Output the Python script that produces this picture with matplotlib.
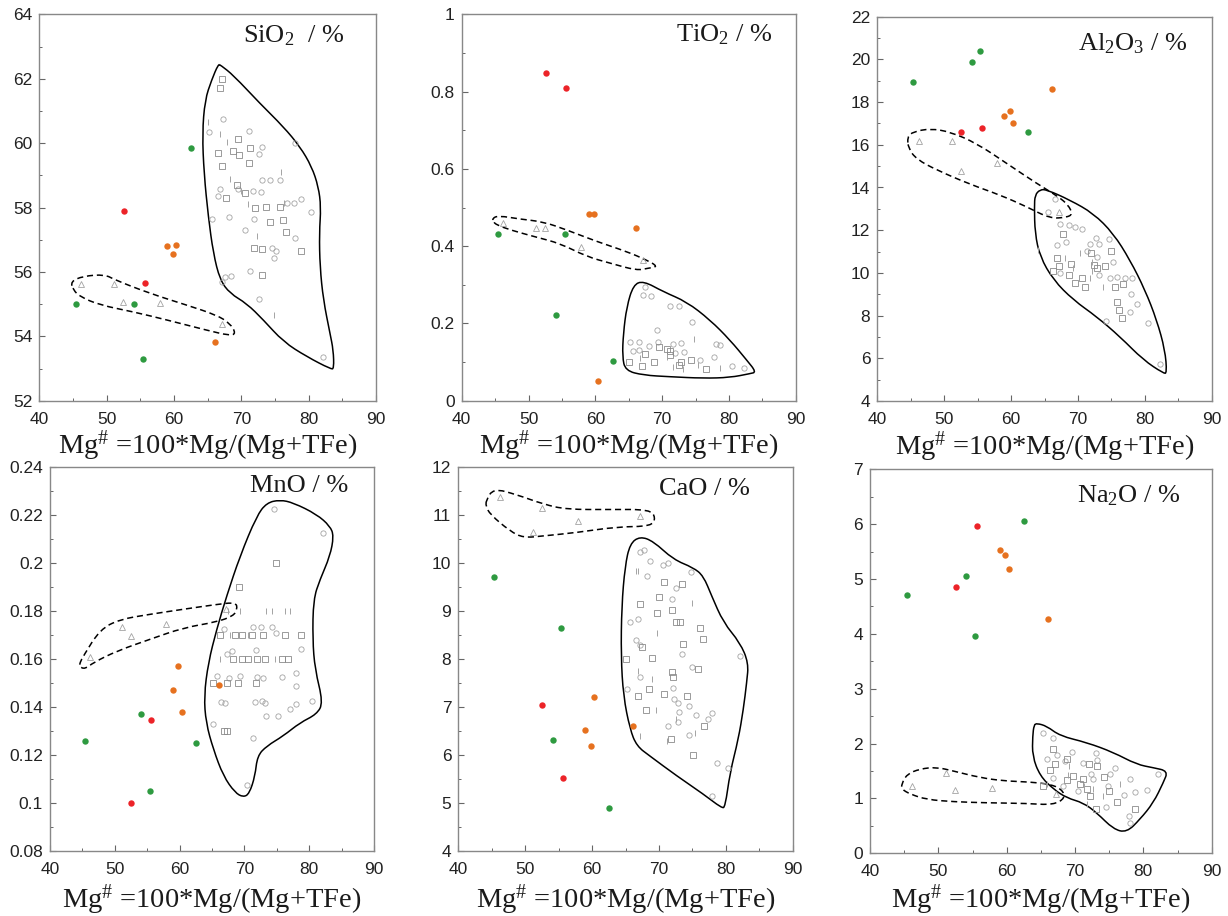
import matplotlib
matplotlib.use("Agg")
import matplotlib.pyplot as plt
from matplotlib.path import Path
from matplotlib.patches import PathPatch
from matplotlib.ticker import MultipleLocator, FuncFormatter

plt.rcParams['font.family'] = 'Liberation Sans'
plt.rcParams['mathtext.fontset'] = 'custom'
plt.rcParams['mathtext.rm'] = 'Liberation Serif'
plt.rcParams['mathtext.it'] = 'Liberation Serif:italic'
plt.rcParams['mathtext.default'] = 'rm'

# Mg# of the coloured samples
mg_green = [45.4, 54.1, 55.4, 62.6]
mg_red = [52.55, 55.65]
mg_orange = [59.0, 59.8, 60.35, 66.05]
mg_tri = [46.2, 51.1, 52.45, 57.9, 67.2]

# oxide values (same order as the Mg# lists)
sio2_green = [55.0, 55.0, 53.3, 59.85]
sio2_red = [57.88, 55.65]
sio2_orange = [56.8, 56.57, 56.84, 53.83]
sio2_tri = [55.62, 55.62, 55.05, 55.04, 54.38]

tio2_green = [0.431, 0.221, 0.431, 0.104]
tio2_red = [0.848, 0.808]
tio2_orange = [0.483, 0.482, 0.052, 0.446]
tio2_tri = [0.461, 0.448, 0.448, 0.398, 0.363]

al2o3_green = [18.95, 19.9, 20.4, 16.6]
al2o3_red = [16.6, 16.8]
al2o3_orange = [17.33, 17.6, 17.02, 18.6]
al2o3_tri = [16.17, 16.16, 14.77, 15.14, 12.83]

mno_green = [0.126, 0.137, 0.105, 0.125]
mno_red = [0.100, 0.1346]
mno_orange = [0.147, 0.157, 0.138, 0.149]
mno_tri = [0.1607, 0.1733, 0.1697, 0.1744, 0.181]

cao_green = [9.70, 6.32, 8.65, 4.91]
cao_red = [7.04, 5.52]
cao_orange = [6.52, 6.20, 7.20, 6.60]
cao_tri = [11.36, 10.65, 11.15, 10.87, 10.97]

na2o_green = [4.70, 5.05, 3.97, 6.05]
na2o_red = [4.85, 5.97]
na2o_orange = [5.52, 5.44, 5.18, 4.28]
na2o_tri = [1.23, 1.46, 1.15, 1.19, 1.08]

# grey reference data (Mg#, oxide)
sio2_circles = [(67.3, 60.75), (65.2, 60.34), (71.2, 60.37), (73.0, 59.87), (72.6, 59.67),
                (73.0, 58.85), (74.3, 58.85), (75.7, 58.85), (71.8, 58.52), (66.5, 58.37),
                (66.8, 58.56), (69.5, 58.58), (76.8, 58.15), (77.8, 58.15), (78.8, 58.26),
                (80.4, 57.86), (65.7, 57.64), (68.1, 57.69), (71.9, 57.65), (70.5, 57.3),
                (77.9, 57.05), (74.6, 56.75), (75.2, 56.66), (74.8, 56.44), (71.3, 56.02),
                (67.6, 55.83), (68.5, 55.87), (67.2, 55.69), (72.6, 55.15), (82.1, 53.37),
                (78.0, 60.01), (72.9, 58.47)]
sio2_squares = [(67.1, 62.0), (66.8, 61.7), (69.5, 60.12), (68.7, 59.75), (71.3, 59.84),
                (66.6, 59.69), (71.1, 59.39), (67.1, 59.3), (67.7, 58.29), (72.1, 58.0),
                (73.6, 58.01), (75.7, 58.01), (74.3, 57.54), (76.2, 57.62), (76.7, 57.23),
                (71.9, 56.74), (73.1, 56.72), (73.1, 55.9), (78.9, 56.66), (70.6, 58.44),
                (69.3, 58.7), (69.7, 59.63)]
sio2_bars = [(65.1, 60.65), (66.9, 60.28), (67.9, 60.04), (68.3, 58.88), (69.9, 58.51),
             (72.3, 57.1), (75.9, 59.1), (74.9, 54.66), (76.4, 58.15), (71.0, 58.1)]

tio2_circles = [(67.2, 0.274), (68.4, 0.271), (71.2, 0.245), (72.5, 0.245), (74.5, 0.203),
                (69.3, 0.182), (65.2, 0.153), (66.6, 0.151), (68.1, 0.142), (69.4, 0.151),
                (72.9, 0.150), (71.7, 0.148), (78.0, 0.148), (78.7, 0.144), (65.7, 0.129),
                (73.3, 0.127), (71.9, 0.123), (77.8, 0.112), (80.4, 0.091), (82.2, 0.085),
                (75.7, 0.105), (66.5, 0.131), (67.4, 0.295)]
tio2_squares = [(69.5, 0.140), (70.7, 0.133), (71.2, 0.129), (67.5, 0.12), (68.8, 0.101),
                (67.0, 0.091), (72.9, 0.101), (74.3, 0.106), (76.6, 0.083), (72.6, 0.092),
                (65.0, 0.101), (71.2, 0.118)]
tio2_bars = [(74.8, 0.159), (66.7, 0.11), (71.7, 0.088), (73.2, 0.081), (78.7, 0.084),
             (75.4, 0.092), (70.7, 0.114)]

al2o3_circles = [(66.6, 13.48), (65.5, 12.87), (67.3, 12.29), (68.6, 12.23), (69.6, 12.16),
                 (70.6, 12.07), (68.2, 11.43), (71.8, 11.34), (72.7, 11.62), (73.2, 11.34),
                 (74.6, 11.57), (71.3, 11.04), (72.8, 10.76), (75.3, 10.51), (67.3, 9.98),
                 (73.1, 9.88), (74.8, 9.78), (75.8, 9.82), (77.0, 9.78), (78.1, 9.78),
                 (77.9, 9.0), (78.8, 8.53), (77.8, 8.18), (74.2, 7.73), (80.5, 7.67),
                 (82.2, 5.75), (66.9, 11.31)]
al2o3_squares = [(67.7, 11.82), (66.8, 10.68), (66.2, 10.09), (71.9, 10.93), (74.9, 11.02),
                 (74.1, 10.32), (72.8, 10.21), (68.7, 9.9), (69.6, 9.51), (70.6, 9.74),
                 (71.1, 9.35), (75.5, 9.35), (76.7, 9.48), (75.8, 8.64), (76.2, 8.26),
                 (76.6, 7.9), (68.9, 10.4), (72.4, 10.37), (67.1, 10.32)]
al2o3_bars = [(64.1, 11.07), (70.3, 10.95), (68.1, 10.7), (72.1, 10.49), (69.3, 10.21),
              (71.8, 9.74), (73.8, 9.35), (72.1, 10.1)]

mno_circles = [(74.6, 0.2223), (82.1, 0.2123), (66.85, 0.1723), (71.3, 0.1732), (72.6, 0.1733),
               (74.3, 0.1733), (74.8, 0.171), (67.3, 0.162), (68.1, 0.1635), (71.8, 0.1637),
               (78.7, 0.164), (65.8, 0.1529), (67.7, 0.1522), (69.3, 0.1529), (71.9, 0.1527),
               (72.9, 0.1522), (75.8, 0.1527), (77.9, 0.154), (77.9, 0.1488), (66.4, 0.1422),
               (67.0, 0.1416), (71.7, 0.1421), (72.7, 0.1425), (73.2, 0.1418), (78.0, 0.1411),
               (77.0, 0.1391), (80.4, 0.1427), (73.3, 0.1363), (75.2, 0.1363), (65.2, 0.1328),
               (71.3, 0.1273), (70.45, 0.1075)]
mno_squares = [(69.1, 0.1901), (74.9, 0.2001), (66.2, 0.17), (68.5, 0.17), (69.7, 0.17),
               (71.2, 0.17), (72.9, 0.17), (76.3, 0.17), (78.8, 0.17), (68.3, 0.16),
               (69.6, 0.16), (70.6, 0.16), (72.0, 0.16), (73.2, 0.16), (75.75, 0.16),
               (76.8, 0.16), (65.2, 0.15), (67.3, 0.15), (69.0, 0.15), (71.8, 0.15),
               (66.9, 0.13), (67.3, 0.13)]
mno_bars = [(67.5, 0.18), (69.3, 0.18), (73.4, 0.18), (74.2, 0.18), (76.3, 0.18),
            (77.0, 0.18), (66.2, 0.16), (67.8, 0.17), (74.7, 0.16), (70.6, 0.17)]

cao_circles = [(67.2, 10.23), (67.7, 10.27), (68.6, 10.04), (70.6, 9.95), (71.3, 9.99),
               (74.8, 9.80), (68.2, 9.72), (72.6, 9.48), (71.9, 9.24), (65.7, 8.78),
               (66.8, 8.83), (66.5, 8.40), (67.2, 8.29), (73.4, 8.10), (82.1, 8.06),
               (75.0, 7.83), (67.2, 7.63), (65.2, 7.37), (72.1, 7.40), (72.2, 7.17),
               (72.8, 7.08), (74.5, 7.02), (73.0, 6.90), (75.6, 6.84), (77.9, 6.88),
               (77.4, 6.75), (71.3, 6.61), (72.8, 6.69), (80.4, 5.74), (78.0, 5.16),
               (74.5, 6.41), (78.7, 5.84)]
cao_squares = [(70.7, 9.60), (67.1, 9.15), (70.0, 9.29), (69.7, 8.96), (71.9, 9.02),
               (72.5, 8.78), (73.2, 8.78), (76.2, 8.65), (76.6, 8.42), (67.5, 8.25),
               (69.0, 8.03), (65.1, 8.01), (71.9, 7.72), (72.1, 7.62), (75.9, 7.79),
               (66.8, 7.23), (68.5, 7.38), (70.7, 7.27), (74.25, 7.24), (68.1, 6.94),
               (76.7, 6.60), (71.8, 6.34), (75.1, 6.0), (73.4, 9.57), (73.6, 8.32)]
cao_bars = [(66.5, 9.83), (66.9, 9.83), (69.7, 8.55), (74.9, 9.17), (66.9, 7.75),
            (68.9, 7.58), (67.1, 6.40), (69.6, 6.94), (71.2, 6.30), (72.6, 6.75), (75.4, 6.47)]

na2o_circles = [(65.3, 2.20), (66.8, 2.10), (65.85, 1.71), (67.4, 1.80), (69.5, 1.85),
                (68.5, 1.68), (71.2, 1.65), (73.1, 1.82), (73.2, 1.70), (75.9, 1.56),
                (75.1, 1.44), (72.4, 1.44), (72.7, 1.35), (78.0, 1.35), (82.2, 1.44),
                (68.2, 1.22), (70.5, 1.14), (74.8, 1.23), (77.1, 1.06), (78.8, 1.12),
                (80.5, 1.15), (74.5, 0.85), (77.9, 0.68), (78.1, 0.56), (66.8, 1.38)]
na2o_squares = [(66.8, 1.91), (68.8, 1.71), (67.1, 1.62), (66.3, 1.51), (72.0, 1.63),
                (73.2, 1.60), (69.75, 1.41), (68.8, 1.34), (71.2, 1.35), (70.7, 1.26),
                (74.2, 1.40), (74.9, 1.14), (72.2, 1.05), (76.2, 0.94), (78.8, 0.80),
                (73.1, 0.80), (71.7, 1.18), (65.3, 1.23)]
na2o_bars = [(69.1, 1.60), (69.0, 1.42), (71.3, 1.23), (72.2, 1.17), (71.7, 0.89),
             (74.1, 1.05), (76.6, 1.26), (65.85, 1.26), (72.7, 1.17)]

# field outlines (control points of smooth closed curves)
sio2_solid = [(66.93, 62.42), (68.81, 62.11), (72.77, 61.23), (76.24, 60.51), (78.71, 59.89),
              (80.45, 59.27), (81.44, 58.65), (81.83, 58.02), (81.58, 57.20), (81.68, 56.16),
              (82.18, 55.13), (83.17, 54.09), (83.66, 53.57), (83.75, 53.0), (83.3, 52.98),
              (79.70, 53.37), (76.24, 53.83), (73.27, 54.51), (70.79, 55.02), (68.32, 55.33),
              (66.83, 55.75), (65.84, 56.58), (65.10, 57.71), (64.46, 59.06), (64.21, 60.30),
              (64.60, 61.34), (65.59, 61.96), (66.58, 62.45)]
sio2_dash = [(44.65, 55.70), (46.5, 55.87), (49.75, 55.92), (51.24, 55.75), (56.44, 55.33),
             (61.88, 54.97), (66.34, 54.66), (68.32, 54.40), (69.2, 54.09), (68.32, 54.02),
             (64.85, 54.19), (58.91, 54.51), (53.96, 54.76), (49.01, 54.97), (46.04, 55.23),
             (45.05, 55.44)]

tio2_solid = [(67.20, 0.310), (70.19, 0.282), (73.68, 0.256), (77.18, 0.209), (80.17, 0.157),
              (82.67, 0.105), (84.1, 0.074), (83.16, 0.070), (80.17, 0.060), (76.18, 0.058),
              (71.19, 0.062), (67.20, 0.066), (64.50, 0.078), (64.05, 0.114), (64.20, 0.174),
              (64.70, 0.243), (65.70, 0.300)]
tio2_dash = [(44.6, 0.472), (45.49, 0.479), (48.73, 0.470), (52.23, 0.463), (55.72, 0.442),
             (60.21, 0.412), (64.70, 0.386), (67.69, 0.364), (69.4, 0.347), (67.94, 0.343),
             (66.20, 0.337), (62.21, 0.356), (58.71, 0.373), (54.72, 0.407), (51.23, 0.423),
             (47.24, 0.442), (45.24, 0.455), (44.74, 0.463)]

al2o3_solid = [(64.33, 13.90), (65.32, 13.90), (68.81, 13.41), (72.30, 12.79), (75.29, 11.85),
               (77.79, 10.60), (80.03, 9.20), (81.78, 7.79), (83.02, 6.39), (83.3, 5.3),
               (82.77, 5.30), (79.78, 5.92), (76.29, 7.01), (72.80, 7.95), (69.31, 8.73),
               (66.32, 9.67), (64.33, 10.76), (63.58, 11.85), (63.48, 13.10), (63.58, 13.65)]
al2o3_dash = [(44.49, 16.38), (45.38, 16.61), (47.88, 16.76), (50.87, 16.61), (54.86, 16.07),
              (59.34, 15.13), (63.83, 14.19), (67.07, 13.57), (68.56, 13.18), (69.2, 12.75),
              (68.31, 12.60), (65.82, 12.55), (62.33, 13.10), (58.35, 13.65), (53.86, 14.15),
              (48.87, 14.82), (45.88, 15.32), (44.64, 15.83)]

mno_solid = [(75.49, 0.2262), (77.55, 0.2250), (81.15, 0.2202), (83.21, 0.2153), (83.8, 0.2112),
             (83.21, 0.2028), (81.67, 0.1931), (80.64, 0.1848), (80.53, 0.1682), (80.89, 0.1557),
             (82.15, 0.1418), (81.15, 0.1370), (78.58, 0.1335), (76.01, 0.1280), (73.44, 0.1238),
             (72.00, 0.1197), (71.64, 0.1113), (70.76, 0.1040), (69.84, 0.1025), (68.55, 0.1044),
             (66.75, 0.1113), (65.21, 0.1224), (64.07, 0.1335), (63.77, 0.1446), (64.43, 0.1585),
             (65.72, 0.1723), (67.26, 0.1862), (69.32, 0.2028), (71.89, 0.2195), (73.44, 0.2250)]
mno_dash = [(44.63, 0.1585), (45.14, 0.1612), (47.72, 0.1723), (50.80, 0.1765), (55.43, 0.1786),
            (60.58, 0.1807), (65.72, 0.1827), (68.7, 0.1836), (68.9, 0.1807), (68.29, 0.1779),
            (65.72, 0.1754), (60.58, 0.1730), (55.43, 0.1682), (50.29, 0.1633), (46.69, 0.1585),
            (45.40, 0.1558), (44.53, 0.1568)]

cao_solid = [(67.17, 10.55), (69.16, 10.45), (72.15, 10.07), (75.14, 9.90), (76.64, 9.73),
             (77.89, 9.31), (79.63, 8.76), (82.12, 8.34), (83.4, 7.92), (83.12, 7.51),
             (82.62, 6.95), (81.87, 6.33), (80.63, 5.64), (79.9, 4.92), (79.38, 4.90),
             (76.64, 5.19), (72.65, 5.57), (68.66, 5.98), (66.67, 6.19), (65.67, 6.54),
             (64.68, 7.23), (64.33, 8.06), (64.43, 9.10), (64.93, 9.93), (65.67, 10.40)]
cao_dash = [(44.14, 11.29), (45.23, 11.55), (48.72, 11.42), (52.71, 11.22), (56.20, 11.11),
            (62.68, 11.11), (68.66, 11.11), (69.5, 10.94), (68.91, 10.76), (63.68, 10.75),
            (57.70, 10.63), (52.71, 10.56), (49.72, 10.52), (47.73, 10.66), (44.74, 11.01),
            (44.14, 11.18)]

na2o_solid = [(64.39, 2.37), (65.85, 2.32), (67.80, 2.14), (71.71, 2.02), (75.61, 1.84),
              (79.02, 1.62), (81.46, 1.56), (83.6, 1.50), (82.93, 1.29), (81.46, 0.92),
              (79.51, 0.62), (77.56, 0.38), (75.61, 0.44), (73.17, 0.74), (71.22, 0.92),
              (68.78, 1.01), (66.83, 1.17), (64.88, 1.41), (63.76, 1.77), (63.80, 2.14),
              (64.00, 2.34)]
na2o_dash = [(44.63, 1.26), (45.37, 1.44), (47.32, 1.54), (49.76, 1.57), (52.20, 1.50),
             (56.10, 1.38), (59.51, 1.32), (63.41, 1.30), (66.34, 1.26), (68.05, 1.17),
             (68.6, 1.01), (66.83, 0.88), (62.93, 0.91), (57.07, 0.92), (52.20, 0.94),
             (48.29, 0.98), (45.85, 1.08), (44.63, 1.17)]

panels = [
    # title, green, red, orange, tri, circles, squares, bars, solid, dash, ylim, major, minor,
    # axes box in px, title pos, xlabel pad
    (r'SiO$_2$  / %', sio2_green, sio2_red, sio2_orange, sio2_tri, sio2_circles, sio2_squares,
     sio2_bars, sio2_solid, sio2_dash, (52, 64), 2, 1, (39.3, 14.3, 376, 400.7), (0.905, 0.945), 1.5),
    (r'TiO$_2$ / %', tio2_green, tio2_red, tio2_orange, tio2_tri, tio2_circles, tio2_squares,
     tio2_bars, tio2_solid, tio2_dash, (0, 1), 0.2, 0.1, (461.7, 14.3, 795.7, 400.7),
     (0.928, 0.946), 1.5),
    (r'Al$_2$O$_3$ / %', al2o3_green, al2o3_red, al2o3_orange, al2o3_tri, al2o3_circles,
     al2o3_squares, al2o3_bars, al2o3_solid, al2o3_dash, (4, 22), 2, 1,
     (877.3, 16.7, 1211.7, 401), (0.925, 0.931), 1.5),
    (r'MnO / %', mno_green, mno_red, mno_orange, mno_tri, mno_circles, mno_squares, mno_bars,
     mno_solid, mno_dash, (0.08, 0.24), 0.02, 0.01, (50, 466.7, 374, 851.3), (0.921, 0.95), 3.5),
    (r'CaO / %', cao_green, cao_red, cao_orange, cao_tri, cao_circles, cao_squares, cao_bars,
     cao_solid, cao_dash, (4, 12), 1, 0.5, (458.3, 466.7, 792.7, 851.3), (0.872, 0.941), 3.5),
    (r'Na$_2$O / %', na2o_green, na2o_red, na2o_orange, na2o_tri, na2o_circles, na2o_squares,
     na2o_bars, na2o_solid, na2o_dash, (0, 7), 1, 0.5, (870, 469.3, 1211.7, 853.3), (0.909, 0.93), 2.5),
]

W, H = 1228, 916
GREY = '#a3a3a3'
SERIF = 'Liberation Serif'


def outline(ax, pts, **kw):
    # smooth closed curve through midpoints, vertices used as control points
    n = len(pts)
    mids = [((pts[i][0] + pts[(i + 1) % n][0]) / 2, (pts[i][1] + pts[(i + 1) % n][1]) / 2)
            for i in range(n)]
    verts = [mids[-1]]
    codes = [Path.MOVETO]
    for i in range(n):
        verts += [pts[i], mids[i]]
        codes += [Path.CURVE3, Path.CURVE3]
    ax.add_patch(PathPatch(Path(verts, codes), fill=False, color='black', **kw))


fig = plt.figure(figsize=(W / 100, H / 100), dpi=100)

for (title, g, r, o, t, circ, sq, bars, solid, dash, ylim, major, minor, box, tpos, lpad) in panels:
    l, tp, rt, bt = box
    ax = fig.add_axes([l / W, 1 - bt / H, (rt - l) / W, (bt - tp) / H])

    ax.plot([p[0] for p in circ], [p[1] for p in circ], 'o', ms=3.8, mfc='none', mec=GREY, mew=0.6)
    ax.plot([p[0] for p in sq], [p[1] for p in sq], 's', ms=4.2, mfc='none', mec='#8a8a8a', mew=0.6)
    ax.plot([p[0] for p in bars], [p[1] for p in bars], '|', ms=5, mec=GREY, mew=0.7)
    ax.plot(mg_tri, t, '^', ms=4.2, mfc='none', mec=GREY, mew=0.6)

    outline(ax, solid, lw=1.1)
    outline(ax, dash, lw=1.1, linestyle=(0, (4, 2.5)))

    ax.plot(mg_green, g, 'o', ms=4.6, color='#2e9a40', mec='none')
    ax.plot(mg_red, r, 'o', ms=4.6, color='#ec2328', mec='none')
    ax.plot(mg_orange, o, 'o', ms=4.6, color='#e6711f', mec='none')

    ax.set_xlim(40, 90)
    ax.set_ylim(*ylim)
    ax.xaxis.set_major_locator(MultipleLocator(10))
    ax.xaxis.set_minor_locator(MultipleLocator(5))
    ax.yaxis.set_major_locator(MultipleLocator(major))
    ax.yaxis.set_minor_locator(MultipleLocator(minor))
    ax.yaxis.set_major_formatter(FuncFormatter(lambda v, p: '%g' % round(v, 4)))
    ax.tick_params(which='both', direction='in', color='#666666', labelsize=12.5,
                   labelcolor='#222222')
    ax.tick_params(which='major', length=4, width=0.8)
    ax.tick_params(which='minor', length=2.5, width=0.7)
    ax.tick_params(axis='x', which='major', pad=8)
    ax.tick_params(axis='y', which='major', pad=5)
    for s in ax.spines.values():
        s.set_color('#888888')
        s.set_linewidth(1.0)

    ax.set_xlabel(r'Mg$^{\#}$ =100*Mg/(Mg+TFe)', fontsize=20.5, family=SERIF, labelpad=lpad,
                  color='#1a1a1a')
    ax.text(tpos[0], tpos[1], title, transform=ax.transAxes, ha='right', va='center',
            fontsize=19, family=SERIF, color='#1a1a1a')

fig.savefig('out.png', dpi=100)
